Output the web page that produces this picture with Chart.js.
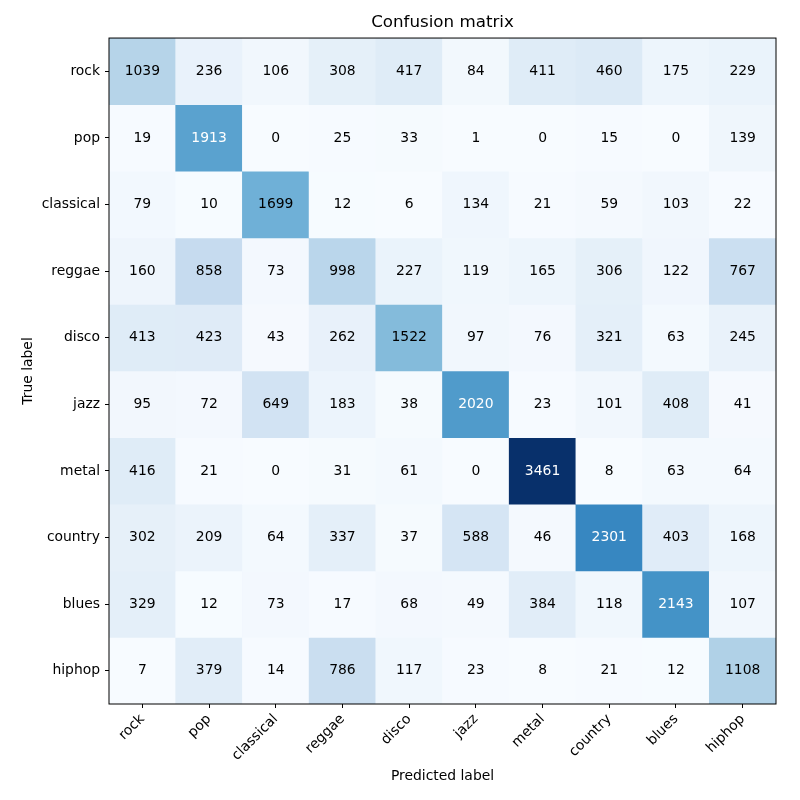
<!DOCTYPE html>
<html>
<head>
<meta charset="utf-8">
<script src="https://cdn.jsdelivr.net/npm/chart.js@4"></script>
<style>
  html, body { margin: 0; padding: 0; background: #fff; }
  #wrap { width: 800px; height: 800px; }
</style>
</head>
<body>
<div id="wrap"><canvas id="cmChart" width="800" height="800"></canvas></div>
<script>
// labels for both axes
const trueLabels = ['rock', 'pop', 'classical', 'reggae', 'disco', 'jazz', 'metal', 'country', 'blues', 'hiphop'];
const predLabels = ['rock', 'pop', 'classical', 'reggae', 'disco', 'jazz', 'metal', 'country', 'blues', 'hiphop'];

// one row per true label
const rowRock      = [1039, 236, 106, 308, 417, 84, 411, 460, 175, 229];
const rowPop       = [19, 1913, 0, 25, 33, 1, 0, 15, 0, 139];
const rowClassical = [79, 10, 1699, 12, 6, 134, 21, 59, 103, 22];
const rowReggae    = [160, 858, 73, 998, 227, 119, 165, 306, 122, 767];
const rowDisco     = [413, 423, 43, 262, 1522, 97, 76, 321, 63, 245];
const rowJazz      = [95, 72, 649, 183, 38, 2020, 23, 101, 408, 41];
const rowMetal     = [416, 21, 0, 31, 61, 0, 3461, 8, 63, 64];
const rowCountry   = [302, 209, 64, 337, 37, 588, 46, 2301, 403, 168];
const rowBlues     = [329, 12, 73, 17, 68, 49, 384, 118, 2143, 107];
const rowHiphop    = [7, 379, 14, 786, 117, 23, 8, 21, 12, 1108];

const rows = [rowRock, rowPop, rowClassical, rowReggae, rowDisco, rowJazz, rowMetal, rowCountry, rowBlues, rowHiphop];

const maxVal = Math.max(...rows.map(r => Math.max(...r)));
const thresh = maxVal / 2;

// matplotlib "Blues" stops
const bluesStops = [
  [247, 251, 255], [222, 235, 247], [198, 219, 239], [158, 202, 225],
  [107, 174, 214], [66, 146, 198], [33, 113, 181], [8, 81, 156], [8, 48, 107]
];

function blues(t) {
  t = Math.min(1, Math.max(0, t));
  const pos = t * (bluesStops.length - 1);
  const i = Math.min(Math.floor(pos), bluesStops.length - 2);
  const f = pos - i;
  const a = bluesStops[i], b = bluesStops[i + 1];
  const c = a.map((v, k) => Math.round(v + (b[k] - v) * f));
  return 'rgb(' + c.join(',') + ')';
}

const FONT = "'DejaVu Sans', sans-serif";
const SIZE = 13.9;

// floating bars, one dataset per true label row
const datasets = rows.map((row, r) => ({
  label: trueLabels[r],
  data: predLabels.map(() => [r, r + 1]),
  values: row,
  backgroundColor: row.map(v => blues(v / maxVal)),
  borderWidth: 0,
  barPercentage: 1,
  categoryPercentage: 1,
  grouped: false
}));

// write counts in the cells
const cellText = {
  id: 'cellText',
  afterDatasetsDraw(chart) {
    const ctx = chart.ctx;
    ctx.save();
    ctx.font = SIZE + 'px ' + FONT;
    ctx.textAlign = 'center';
    ctx.textBaseline = 'middle';
    chart.data.datasets.forEach((ds, di) => {
      const meta = chart.getDatasetMeta(di);
      meta.data.forEach((bar, j) => {
        const v = ds.values[j];
        const p = bar.getCenterPoint();
        ctx.fillStyle = v > thresh ? '#ffffff' : '#000000';
        ctx.fillText(String(v), p.x, p.y);
      });
    });
    ctx.restore();
  }
};

// black frame round the plot area
const frame = {
  id: 'frame',
  afterDraw(chart) {
    const a = chart.chartArea;
    const ctx = chart.ctx;
    ctx.save();
    ctx.strokeStyle = '#000';
    ctx.lineWidth = 1;
    ctx.strokeRect(a.left, a.top, a.right - a.left, a.bottom - a.top);
    ctx.restore();
  }
};

const ctx = document.getElementById('cmChart').getContext('2d');
new Chart(ctx, {
  type: 'bar',
  data: { labels: predLabels, datasets: datasets },
  plugins: [cellText, frame],
  options: {
    responsive: false,
    animation: false,
    devicePixelRatio: 1,
    layout: { padding: { left: 0, right: 24, top: 0, bottom: 0 } },
    plugins: {
      legend: { display: false },
      tooltip: { enabled: false },
      title: {
        display: true,
        text: 'Confusion matrix',
        fullSize: false,
        color: '#000',
        font: { family: FONT, size: 16.7, weight: 'normal' },
        padding: { top: 13, bottom: 5 }
      }
    },
    scales: {
      x: {
        type: 'category',
        offset: true,
        grid: { offset: false, drawOnChartArea: false, drawTicks: true, tickLength: 4, color: '#000' },
        border: { display: false },
        ticks: {
          color: '#000',
          font: { family: FONT, size: SIZE },
          minRotation: 45,
          maxRotation: 45,
          padding: 3
        },
        title: {
          display: true,
          text: 'Predicted label',
          color: '#000',
          font: { family: FONT, size: SIZE },
          padding: { top: 0, bottom: 15 }
        },
        afterFit(scale) { scale.height = 96; }
      },
      y: {
        type: 'linear',
        min: 0,
        max: 10,
        reverse: true,
        grid: { drawOnChartArea: false, drawTicks: true, tickLength: 4, color: '#000' },
        border: { display: false },
        afterBuildTicks(scale) {
          scale.ticks = trueLabels.map((_, i) => ({ value: i + 0.5 }));
        },
        ticks: {
          color: '#000',
          font: { family: FONT, size: SIZE },
          padding: 5,
          autoSkip: false,
          callback: (v, i) => trueLabels[i]
        },
        title: {
          display: true,
          text: 'True label',
          color: '#000',
          font: { family: FONT, size: SIZE },
          padding: { top: 20, bottom: 0 }
        },
        afterFit(scale) { scale.width = 109; }
      }
    }
  }
});
</script>
</body>
</html>
